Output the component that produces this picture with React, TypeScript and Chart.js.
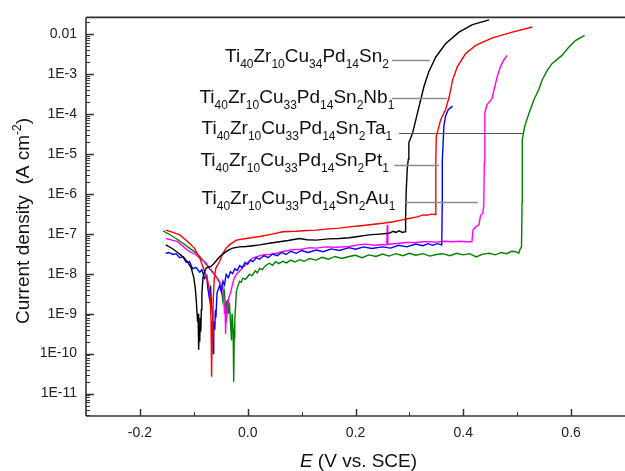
import React, { useEffect, useRef } from 'react';
import { Chart, registerables } from 'chart.js';

Chart.register(...registerables);

// Potential E (V vs. SCE) and log10 of current density (A cm^-2)
const blackE = [-0.152, -0.14, -0.13, -0.12, -0.112, -0.105, -0.1, -0.097, -0.095, -0.093, -0.092, -0.091, -0.09, -0.089, -0.088, -0.087, -0.086, -0.085, -0.083, -0.08, -0.077, -0.072, -0.068, -0.063, -0.059, -0.055, -0.05, -0.045, -0.04, -0.034, -0.028, -0.015, -0.003, 0.01, 0.022, 0.04, 0.059, 0.075, 0.096, 0.11, 0.127, 0.15, 0.17, 0.188, 0.205, 0.225, 0.245, 0.262, 0.27, 0.275, 0.281, 0.287, 0.292, 0.293, 0.294, 0.296, 0.298, 0.299, 0.306, 0.315, 0.321, 0.327, 0.336, 0.349, 0.367, 0.392, 0.417, 0.448];
const blackLogI = [-7.28, -7.37, -7.47, -7.58, -7.7, -7.85, -8.1, -8.4, -8.75, -9.2, -9.0, -9.9, -9.35, -9.7, -9.1, -9.45, -8.9, -8.5, -8.1, -7.95, -7.86, -7.83, -7.82, -7.75, -7.69, -7.62, -7.55, -7.5, -7.45, -7.4, -7.36, -7.33, -7.32, -7.3, -7.28, -7.24, -7.2, -7.17, -7.12, -7.15, -7.16, -7.13, -7.12, -7.1, -7.07, -7.03, -7.01, -6.99, -6.94, -6.97, -6.93, -6.97, -6.95, -6.58, -5.96, -5.38, -5.14, -4.72, -4.48, -3.98, -3.65, -3.32, -2.95, -2.58, -2.25, -1.96, -1.77, -1.65];

const redE = [-0.152, -0.14, -0.126, -0.111, -0.099, -0.089, -0.08, -0.074, -0.07, -0.068, -0.067, -0.066, -0.065, -0.064, -0.062, -0.059, -0.052, -0.046, -0.04, -0.034, -0.021, -0.003, 0.022, 0.045, 0.065, 0.09, 0.11, 0.127, 0.15, 0.17, 0.188, 0.21, 0.23, 0.25, 0.27, 0.285, 0.299, 0.315, 0.325, 0.333, 0.34, 0.348, 0.349, 0.349, 0.35, 0.355, 0.358, 0.367, 0.374, 0.38, 0.389, 0.404, 0.423, 0.454, 0.491, 0.528];
const redLogI = [-6.91, -6.96, -7.03, -7.2, -7.36, -7.61, -7.94, -8.19, -8.52, -9.18, -10.58, -9.6, -9.43, -8.68, -8.11, -7.86, -7.69, -7.49, -7.36, -7.28, -7.16, -7.12, -7.07, -7.01, -6.95, -6.94, -6.92, -6.91, -6.88, -6.86, -6.83, -6.8, -6.77, -6.74, -6.7, -6.66, -6.62, -6.58, -6.53, -6.54, -6.51, -6.52, -5.96, -5.14, -4.56, -4.31, -4.15, -3.9, -3.57, -3.16, -2.82, -2.5, -2.29, -2.1, -1.96, -1.83];

const blueE = [-0.152, -0.146, -0.139, -0.133, -0.126, -0.12, -0.114, -0.108, -0.102, -0.096, -0.089, -0.085, -0.08, -0.076, -0.074, -0.071, -0.069, -0.067, -0.065, -0.064, -0.063, -0.061, -0.06, -0.059, -0.057, -0.056, -0.052, -0.049, -0.046, -0.043, -0.04, -0.036, -0.032, -0.028, -0.024, -0.019, -0.015, -0.01, -0.005, 0.0, 0.005, 0.01, 0.016, 0.022, 0.03, 0.038, 0.046, 0.055, 0.063, 0.071, 0.08, 0.09, 0.1, 0.112, 0.127, 0.14, 0.155, 0.17, 0.188, 0.2, 0.215, 0.23, 0.25, 0.265, 0.28, 0.295, 0.312, 0.325, 0.335, 0.343, 0.352, 0.36, 0.361, 0.361, 0.364, 0.367, 0.372, 0.38];
const blueLogI = [-7.49, -7.47, -7.52, -7.5, -7.6, -7.58, -7.72, -7.7, -7.88, -7.84, -7.96, -7.9, -8.12, -8.05, -8.36, -8.62, -8.3, -8.8, -9.01, -10.0, -9.2, -9.4, -8.9, -9.1, -8.5, -8.44, -8.3, -8.45, -8.19, -8.28, -8.02, -8.1, -7.95, -8.0, -7.88, -7.92, -7.8, -7.85, -7.72, -7.76, -7.66, -7.7, -7.6, -7.64, -7.55, -7.6, -7.51, -7.55, -7.47, -7.52, -7.44, -7.49, -7.42, -7.47, -7.41, -7.45, -7.38, -7.42, -7.35, -7.39, -7.33, -7.37, -7.33, -7.36, -7.29, -7.33, -7.26, -7.3, -7.25, -7.29, -7.25, -7.28, -6.21, -5.18, -4.31, -4.06, -3.9, -3.81];

const magentaE = [-0.152, -0.14, -0.13, -0.119, -0.108, -0.097, -0.086, -0.078, -0.071, -0.065, -0.059, -0.052, -0.048, -0.046, -0.044, -0.043, -0.042, -0.041, -0.04, -0.038, -0.035, -0.031, -0.028, -0.025, -0.02, -0.015, -0.009, -0.003, 0.003, 0.009, 0.018, 0.028, 0.04, 0.053, 0.068, 0.083, 0.1, 0.115, 0.127, 0.145, 0.165, 0.188, 0.205, 0.219, 0.235, 0.25, 0.258, 0.259, 0.26, 0.27, 0.281, 0.295, 0.312, 0.325, 0.336, 0.35, 0.365, 0.38, 0.395, 0.405, 0.416, 0.418, 0.423, 0.429, 0.432, 0.436, 0.438, 0.439, 0.44, 0.44, 0.444, 0.453, 0.457, 0.463, 0.469, 0.475, 0.481];
const magentaLogI = [-7.12, -7.16, -7.2, -7.33, -7.45, -7.52, -7.64, -7.72, -7.86, -7.95, -8.06, -8.2, -8.35, -8.44, -8.7, -9.01, -8.8, -9.51, -9.1, -8.93, -8.6, -8.44, -8.25, -8.11, -8.0, -7.94, -7.84, -7.77, -7.68, -7.61, -7.57, -7.53, -7.52, -7.49, -7.44, -7.4, -7.39, -7.35, -7.36, -7.33, -7.34, -7.32, -7.28, -7.26, -7.29, -7.27, -7.28, -6.78, -7.27, -7.25, -7.24, -7.22, -7.22, -7.2, -7.2, -7.21, -7.19, -7.2, -7.19, -7.2, -7.2, -6.91, -6.83, -6.78, -6.54, -6.5, -6.29, -5.22, -4.23, -3.98, -3.77, -3.63, -3.4, -3.07, -2.82, -2.66, -2.54];

const greenE = [-0.157, -0.145, -0.133, -0.12, -0.108, -0.098, -0.089, -0.081, -0.074, -0.068, -0.062, -0.057, -0.052, -0.049, -0.046, -0.044, -0.043, -0.041, -0.04, -0.039, -0.038, -0.036, -0.034, -0.032, -0.03, -0.029, -0.027, -0.026, -0.025, -0.024, -0.022, -0.021, -0.018, -0.015, -0.012, -0.009, -0.004, 0.003, 0.008, 0.014, 0.018, 0.022, 0.027, 0.033, 0.04, 0.046, 0.052, 0.058, 0.065, 0.072, 0.08, 0.088, 0.096, 0.105, 0.115, 0.127, 0.138, 0.15, 0.162, 0.175, 0.188, 0.2, 0.212, 0.225, 0.238, 0.25, 0.262, 0.275, 0.288, 0.3, 0.312, 0.325, 0.338, 0.35, 0.362, 0.375, 0.388, 0.4, 0.412, 0.424, 0.436, 0.448, 0.46, 0.47, 0.48, 0.49, 0.497, 0.503, 0.505, 0.508, 0.509, 0.509, 0.51, 0.514, 0.522, 0.531, 0.54, 0.546, 0.556, 0.565, 0.583, 0.596, 0.608, 0.625];
const greenLogI = [-6.93, -7.02, -7.12, -7.24, -7.36, -7.46, -7.57, -7.7, -7.82, -7.92, -8.02, -8.12, -8.23, -8.4, -8.68, -8.4, -8.48, -8.9, -9.18, -8.7, -8.68, -9.0, -8.73, -9.2, -9.67, -9.0, -9.4, -10.71, -9.6, -9.18, -8.7, -8.44, -8.3, -8.19, -8.22, -8.11, -8.14, -8.02, -8.05, -7.93, -7.98, -7.87, -7.9, -7.8, -7.74, -7.79, -7.7, -7.75, -7.69, -7.73, -7.66, -7.71, -7.65, -7.69, -7.62, -7.66, -7.59, -7.64, -7.57, -7.62, -7.57, -7.54, -7.6, -7.53, -7.57, -7.51, -7.56, -7.5, -7.55, -7.49, -7.54, -7.5, -7.56, -7.52, -7.5, -7.55, -7.49, -7.53, -7.5, -7.58, -7.51, -7.49, -7.53, -7.47, -7.5, -7.44, -7.45, -7.49, -7.4, -7.32, -6.21, -5.22, -4.64, -4.31, -3.98, -3.65, -3.4, -3.16, -2.91, -2.74, -2.54, -2.33, -2.17, -2.04];

// Axis ranges and ticks
const xMin = -0.3;
const xMax = 0.7;
const yMinLog = -11.56;
const yMaxLog = -1.59;
const xTickValues = [-0.2, 0, 0.2, 0.4, 0.6];
const xTickLabels = ['-0.2', '0.0', '0.2', '0.4', '0.6'];
const yTickExponents = [-11, -10, -9, -8, -7, -6, -5, -4, -3, -2];
const yTickLabels = ['1E-11', '1E-10', '1E-9', '1E-8', '1E-7', '1E-6', '1E-5', '1E-4', '1E-3', '0.01'];

// Alloy labels: [text, isSubscript]
const labelTexts: [string, boolean][][] = [
  [['Ti', false], ['40', true], ['Zr', false], ['10', true], ['Cu', false], ['34', true], ['Pd', false], ['14', true], ['Sn', false], ['2', true]],
  [['Ti', false], ['40', true], ['Zr', false], ['10', true], ['Cu', false], ['33', true], ['Pd', false], ['14', true], ['Sn', false], ['2', true], ['Nb', false], ['1', true]],
  [['Ti', false], ['40', true], ['Zr', false], ['10', true], ['Cu', false], ['33', true], ['Pd', false], ['14', true], ['Sn', false], ['2', true], ['Ta', false], ['1', true]],
  [['Ti', false], ['40', true], ['Zr', false], ['10', true], ['Cu', false], ['33', true], ['Pd', false], ['14', true], ['Sn', false], ['2', true], ['Pt', false], ['1', true]],
  [['Ti', false], ['40', true], ['Zr', false], ['10', true], ['Cu', false], ['33', true], ['Pd', false], ['14', true], ['Sn', false], ['2', true], ['Au', false], ['1', true]],
];
// label anchors in data units
const labelRightE = [0.262, 0.272, 0.268, 0.262, 0.274];
const labelBaseLogI = [-2.70, -3.733, -4.50, -5.317, -6.265];
const leaderLogI = [-2.644, -3.609, -4.475, -5.285, -6.208];
const leaderStartE = [0.268, 0.268, 0.281, 0.272, 0.293];
const leaderEndE = [0.338, 0.37, 0.512, 0.355, 0.427];
const leaderColors = ['#8c8c8c', '#8c8c8c', '#555555', '#8c8c8c', '#8c8c8c'];

const FONT = '"Liberation Sans", Arial, Helvetica, sans-serif';

function toPoints(es: number[], logs: number[]) {
  return es.map((e, i) => ({ x: e, y: Math.pow(10, logs[i]) }));
}

const decorPlugin = {
  id: 'decor',
  afterDraw(chart: any) {
    const { ctx, chartArea: ca, scales } = chart;
    const x = scales.x;
    const y = scales.y;
    ctx.save();
    const line = (x1: number, y1: number, x2: number, y2: number) => {
      ctx.beginPath();
      ctx.moveTo(x1, y1);
      ctx.lineTo(x2, y2);
      ctx.stroke();
    };
    ctx.strokeStyle = '#333';
    // y ticks (inward)
    for (let e = -12; e <= -1; e++) {
      for (let m = 1; m <= 9; m++) {
        const v = m * Math.pow(10, e);
        if (v < y.min || v > y.max) continue;
        const py = Math.round(y.getPixelForValue(v)) + 0.5;
        ctx.lineWidth = m === 1 ? 1.5 : 1;
        line(ca.left, py, ca.left + (m === 1 ? 8 : 4), py);
      }
    }
    // x ticks (inward)
    for (let i = -2; i <= 6; i++) {
      const px = Math.round(x.getPixelForValue(i / 10)) + 0.5;
      const major = i % 2 === 0;
      ctx.lineWidth = major ? 1.5 : 1;
      line(px, ca.bottom, px, ca.bottom - (major ? 7 : 4));
    }
    // frame
    ctx.lineWidth = 1.6;
    ctx.strokeStyle = '#333';
    line(ca.left, ca.top, ca.right + 2, ca.top);
    line(ca.left, ca.top, ca.left, ca.bottom);
    line(ca.left, ca.bottom, ca.right + 2, ca.bottom);

    // labels with subscripts
    const mainSize = 19;
    const subSize = 12;
    ctx.fillStyle = '#111';
    ctx.textBaseline = 'alphabetic';
    ctx.textAlign = 'left';
    labelTexts.forEach((runs, k) => {
      let total = 0;
      const widths = runs.map(([t, sub]) => {
        ctx.font = `${sub ? subSize : mainSize}px ${FONT}`;
        const w = ctx.measureText(t).width;
        total += w;
        return w;
      });
      let cx = x.getPixelForValue(labelRightE[k]) - total;
      const by = y.getPixelForValue(Math.pow(10, labelBaseLogI[k]));
      runs.forEach(([t, sub], j) => {
        ctx.font = `${sub ? subSize : mainSize}px ${FONT}`;
        ctx.fillText(t, cx, sub ? by + 6 : by);
        cx += widths[j];
      });
      ctx.strokeStyle = leaderColors[k];
      ctx.lineWidth = k === 2 ? 1 : 1.5;
      const ly = Math.round(y.getPixelForValue(Math.pow(10, leaderLogI[k]))) + 0.5;
      line(x.getPixelForValue(leaderStartE[k]), ly, x.getPixelForValue(leaderEndE[k]), ly);
    });

    // y axis title
    ctx.fillStyle = '#111';
    ctx.save();
    ctx.translate(29, 221);
    ctx.rotate(-Math.PI / 2);
    const yRuns: [string, number][] = [['Current density  (A cm', 0], ['-2', 1], [')', 0]];
    let tw = 0;
    const yw = yRuns.map(([t, s]) => {
      ctx.font = `${s ? 12 : 19}px ${FONT}`;
      const w = ctx.measureText(t).width;
      tw += w;
      return w;
    });
    let tx = -tw / 2;
    yRuns.forEach(([t, s], j) => {
      ctx.font = `${s ? 12 : 19}px ${FONT}`;
      ctx.fillText(t, tx, s ? -8 : 0);
      tx += yw[j];
    });
    ctx.restore();

    // x axis title
    ctx.font = `italic 19px ${FONT}`;
    const wE = ctx.measureText('E').width;
    ctx.font = `19px ${FONT}`;
    const wRest = ctx.measureText(' (V vs. SCE)').width;
    const cxT = (ca.left + ca.right) / 2 - (wE + wRest) / 2 + 3;
    ctx.font = `italic 19px ${FONT}`;
    ctx.fillText('E', cxT, 467);
    ctx.font = `19px ${FONT}`;
    ctx.fillText(' (V vs. SCE)', cxT + wE, 467);

    ctx.restore();
  },
};

export default function App() {
  const ref = useRef<HTMLCanvasElement | null>(null);
  useEffect(() => {
    if (!ref.current) return;
    const series = [
      { e: blackE, l: blackLogI, c: '#000000' },
      { e: redE, l: redLogI, c: '#ff0000' },
      { e: blueE, l: blueLogI, c: '#0000ff' },
      { e: magentaE, l: magentaLogI, c: '#ff00ff' },
      { e: greenE, l: greenLogI, c: '#008000' },
    ];
    const chart = new Chart(ref.current, {
      type: 'scatter',
      data: {
        datasets: series.map((s) => ({
          data: toPoints(s.e, s.l),
          showLine: true,
          borderColor: s.c,
          backgroundColor: s.c,
          borderWidth: 1.4,
          pointRadius: 0,
          tension: 0,
        })),
      },
      plugins: [decorPlugin],
      options: {
        animation: false,
        responsive: true,
        maintainAspectRatio: false,
        devicePixelRatio: 1,
        layout: { padding: { top: 13, right: 0, left: 0, bottom: 0 } },
        plugins: { legend: { display: false }, tooltip: { enabled: false } },
        scales: {
          x: {
            type: 'linear',
            min: xMin,
            max: xMax,
            grid: { display: false, drawTicks: false },
            border: { display: false },
            afterFit: (s: any) => { s.height = 55; },
            afterBuildTicks: (s: any) => { s.ticks = xTickValues.map((v) => ({ value: v })); },
            ticks: {
              padding: 9,
              color: '#222',
              font: { family: FONT, size: 14 },
              callback: (v: any) => xTickLabels[xTickValues.findIndex((t) => Math.abs(t - Number(v)) < 1e-9)] ?? '',
              maxRotation: 0,
            },
          },
          y: {
            type: 'logarithmic',
            min: Math.pow(10, yMinLog),
            max: Math.pow(10, yMaxLog),
            grid: { display: false, drawTicks: false },
            border: { display: false },
            afterFit: (s: any) => { s.width = 86; },
            afterBuildTicks: (s: any) => { s.ticks = yTickExponents.map((e) => ({ value: Math.pow(10, e) })); },
            ticks: {
              padding: 9,
              color: '#222',
              font: { family: FONT, size: 14 },
              autoSkip: false,
              callback: (v: any) => {
                const idx = yTickExponents.findIndex((e) => Math.abs(Math.log10(Number(v)) - e) < 1e-6);
                return idx >= 0 ? yTickLabels[idx] : '';
              },
            },
          },
        },
      },
    });
    return () => chart.destroy();
  }, []);
  return (
    <div style={{ position: 'fixed', left: 0, top: 0, width: 625, height: 471, background: '#fff' }}>
      <canvas ref={ref} />
    </div>
  );
}
